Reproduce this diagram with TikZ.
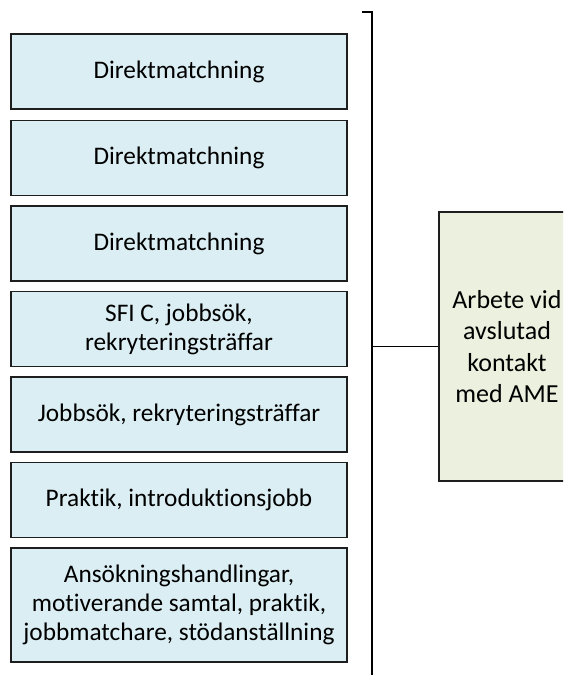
\documentclass[tikz,border=0pt]{standalone}
\usepackage{fontspec}
\setmainfont[Ligatures=NoCommon]{Carlito}
\definecolor{boxblue}{HTML}{DAEEF3}
\definecolor{boxgreen}{HTML}{EBF1DE}
\definecolor{edge}{HTML}{1E1E1E}
\tikzset{
  stepbox/.style={draw=edge, line width=1.4pt, fill=boxblue, minimum width=336pt,
    minimum height=75pt, inner sep=0pt, align=center,
    font=\fontsize{25.3}{28.8}\selectfont},
  resbox/.style={draw=edge, line width=1.4pt, fill=boxgreen, minimum width=136pt,
    minimum height=269pt, inner sep=0pt, align=center,
    font=\fontsize{26}{31.5}\selectfont},
  bracket/.style={draw=black, line width=1.6pt},
}
\begin{document}
\begin{tikzpicture}[x=1pt,y=-1pt]
\useasboundingbox (0,0) rectangle (563,675);
\clip (0,0) rectangle (563,675);
\node[stepbox] (b1) at (179,71.5) {Direktmatchning};
\node[stepbox] (b2) at (179,158) {Direktmatchning};
\node[stepbox] (b3) at (179,243.5) {Direktmatchning};
\node[stepbox] (b4) at (179,329) {SFI C, jobbsök,\\rekryteringsträffar};
\node[stepbox] (b5) at (179,414.5) {Jobbsök, rekryteringsträffar};
\node[stepbox] (b6) at (179,500) {Praktik, introduktionsjobb};
\node[stepbox, minimum height=114pt] (b7) at (179,605) {Ansökningshandlingar,\\motiverande samtal, praktik,\\jobbmatchare, stödanställning};
\node[resbox] (res) at (507,346.5) {Arbete vid\\avslutad\\kontakt\\med AME};
\coordinate (tick) at (362,12);
\coordinate (top) at (372,12);
\coordinate (bot) at (372,675);
\coordinate (junc) at (372,346.5);
\draw[bracket] (tick) -- (top) -- (bot);
\draw[bracket, line width=1.2pt] (junc) -- (res.west);
\end{tikzpicture}
\end{document}
